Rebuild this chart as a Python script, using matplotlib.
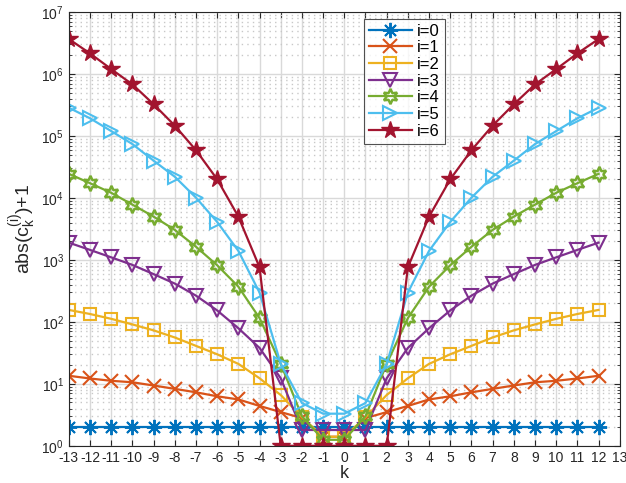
import numpy as np
import matplotlib.pyplot as plt
from matplotlib.ticker import LogLocator, NullFormatter, MultipleLocator

plt.rcParams['font.family'] = ['Liberation Sans', 'DejaVu Sans']
plt.rcParams['mathtext.fontset'] = 'custom'
plt.rcParams['mathtext.rm'] = 'Liberation Sans'
plt.rcParams['mathtext.it'] = 'Liberation Sans'
plt.rcParams['axes.unicode_minus'] = False

# k values and abs(c_k^(i))+1
k = np.arange(-13, 13)

c0 = [2.0] * 26
c1 = [13.5, 12.2, 11.2, 10.6, 9.4, 8.3, 7.3, 6.3, 5.6, 4.4, 3.5, 2.8, 1.4,
      1.4, 2.8, 3.5, 4.4, 5.6, 6.3, 7.3, 8.3, 9.4, 10.6, 11.2, 12.2, 13.5]
c2 = [156, 134, 112, 91, 73, 56, 41, 30, 21, 12.3, 6.6, 2.9, 1.4,
      1.4, 2.9, 6.6, 12.3, 21, 30, 41, 56, 73, 91, 112, 134, 156]
c3 = [1900, 1450, 1100, 830, 590, 415, 265, 153, 79, 38, 12.3, 1.8, 1.8,
      1.8, 1.8, 12.3, 38, 79, 153, 265, 415, 590, 830, 1100, 1450, 1900]
c4 = [24500, 17300, 12100, 7800, 5000, 3050, 1630, 820, 370, 115, 21, 3.0, 1.25,
      1.25, 3.0, 21, 115, 370, 820, 1630, 3050, 5000, 7800, 12100, 17300, 24500]
c5 = [2.86e5, 1.93e5, 1.2e5, 7.4e4, 4.0e4, 2.2e4, 1.01e4, 4100, 1400, 297, 21, 4.9, 3.3,
      3.3, 4.9, 21, 297, 1400, 4100, 1.01e4, 2.2e4, 4.0e4, 7.4e4, 1.2e5, 1.93e5, 2.86e5]
c6 = [3.67e6, 2.15e6, 1.2e6, 6.8e5, 3.25e5, 1.47e5, 5.9e4, 2.0e4, 5000, 760, 1, 1, 1,
      1, 1, 1, 760, 5000, 2.0e4, 5.9e4, 1.47e5, 3.25e5, 6.8e5, 1.2e6, 2.15e6, 3.67e6]

series = [c0, c1, c2, c3, c4, c5, c6]
colors = ['#0072BD', '#D95319', '#EDB120', '#7E2F8E', '#77AC30', '#4DBEEE', '#A2142F']
# matlab-like markers: asterisk, x, square, down triangle, hexagram, right triangle, pentagram
markers = [(8, 2, 0), 'x', 's', 'v', (6, 1, 0), '>', '*']
sizes = [11, 10, 8.5, 9.5, 11, 9.5, 13]
widths = [1.4, 1.5, 1.5, 1.5, 1.8, 1.5, 1.0]

fig = plt.figure(figsize=(6.26, 4.83), dpi=100)
ax = fig.add_axes([0.110, 0.077, 0.880, 0.898])

for i, (vals, col, mk) in enumerate(zip(series, colors, markers)):
    face = col if i == 6 else 'none'
    ax.plot(k, vals, color=col, marker=mk, markersize=sizes[i], markerfacecolor=face,
            markeredgecolor=col, markeredgewidth=widths[i], linewidth=1.6,
            label='i=%d' % i)

ax.set_yscale('log')
ax.set_xlim(-13, 13)
ax.set_ylim(1, 1e7)
ax.xaxis.set_major_locator(MultipleLocator(1))
ax.yaxis.set_major_locator(LogLocator(base=10, numticks=10))
ax.yaxis.set_minor_locator(LogLocator(base=10, subs=np.arange(2, 10), numticks=20))
ax.yaxis.set_minor_formatter(NullFormatter())

ax.grid(True, which='major', color='#d9d9d9', linewidth=1.0)
ax.grid(True, which='minor', axis='y', color='#c8c8c8', linestyle=(0, (1, 3)), linewidth=1.0)
ax.set_axisbelow(True)

ax.tick_params(which='both', direction='in', top=True, right=True, colors='#262626')
ax.tick_params(axis='x', labelsize=10, pad=4)
ax.tick_params(axis='y', labelsize=10)
ax.tick_params(which='major', length=4, width=0.8)
ax.tick_params(which='minor', length=2, width=0.6)
for sp in ax.spines.values():
    sp.set_color('#262626')
    sp.set_linewidth(0.8)

ax.set_xlabel('k', fontsize=13, color='#262626', labelpad=0)
ax.set_ylabel(r'abs(c$_k^{(i)}$)+1', fontsize=14, color='#262626', labelpad=2)

leg = ax.legend(loc='upper left', bbox_to_anchor=(0.535, 0.985), fontsize=12,
                frameon=True, fancybox=False, edgecolor='#262626',
                handlelength=2.6, handletextpad=0.3, labelspacing=0.1,
                borderpad=0.3, borderaxespad=0)
leg.get_frame().set_linewidth(0.8)

fig.savefig('out.png', dpi=100)
